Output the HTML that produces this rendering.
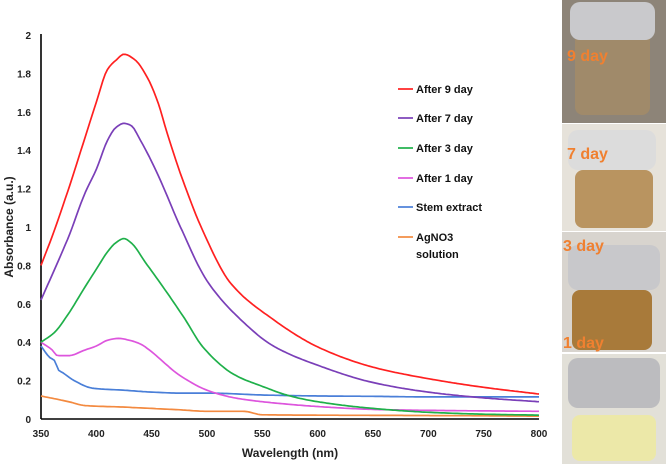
<!DOCTYPE html>
<html><head><meta charset="utf-8"><style>
body{margin:0;background:#fff;width:669px;height:464px;overflow:hidden;font-family:"Liberation Sans",sans-serif}
svg text{font-family:"Liberation Sans",sans-serif}
</style></head><body>
<svg width="669" height="464" viewBox="0 0 669 464" id="svg">
<g id="plot"></g>
<g id="photos">
 <rect x="562" y="0" width="104" height="123" fill="#8d8478"/>
 <rect x="575" y="30" width="75" height="85" rx="8" fill="#a08a6a"/>
 <rect x="570" y="2" width="85" height="38" rx="10" fill="#c9c9cc"/>
 <rect x="562" y="124" width="104" height="107" fill="#e6e2da"/>
 <rect x="575" y="170" width="78" height="58" rx="8" fill="#b99460"/>
 <rect x="568" y="130" width="88" height="40" rx="10" fill="#dcdcdc"/>
 <rect x="562" y="232" width="104" height="120" fill="#d8d4ce"/>
 <rect x="572" y="290" width="80" height="60" rx="8" fill="#a87a3a"/>
 <rect x="568" y="245" width="92" height="45" rx="10" fill="#c8c8cb"/>
 <rect x="562" y="354" width="104" height="110" fill="#e2e0d8"/>
 <rect x="572" y="415" width="84" height="46" rx="8" fill="#ece8a8"/>
 <rect x="568" y="358" width="92" height="50" rx="10" fill="#bcbcbf"/>
 <g font-weight="bold" font-size="16" fill="#f08030">
  <text x="567" y="61">9 day</text>
  <text x="567" y="159">7 day</text>
  <text x="563" y="251">3 day</text>
  <text x="563" y="348">1 day</text>
 </g>
</g>
</svg>
<script>
const seriesNames=["After 9 day","After 7 day","After 3 day","After 1 day","Stem extract","AgNO3 solution"];
const seriesColors=["#ff2020","#7a3fb8","#1fb04a","#dd55dd","#4a7fd8","#f38a40"];
const wl9=[350,360,375,390,400,410,418,425,435,445,455,465,479,497,521,557,602,650,700,750,800];
const ab9=[0.8,0.95,1.2,1.47,1.65,1.82,1.87,1.9,1.87,1.79,1.66,1.47,1.23,0.97,0.71,0.53,0.37,0.27,0.21,0.165,0.13];
const wl7=[350,360,375,390,400,410,418,425,431,440,455,476,500,530,560,600,650,700,750,800];
const ab7=[0.62,0.75,0.95,1.18,1.3,1.45,1.52,1.54,1.53,1.45,1.28,1.0,0.72,0.52,0.38,0.28,0.19,0.14,0.11,0.09];
const wl3=[350,362,375,390,400,410,418,425,431,445,460,479,497,525,550,575,600,650,700,750,800];
const ab3=[0.4,0.45,0.55,0.69,0.78,0.87,0.92,0.94,0.92,0.81,0.69,0.53,0.37,0.23,0.17,0.12,0.09,0.055,0.035,0.025,0.02];
const wl1=[350,360,365,375,390,400,410,420,430,440,450,460,470,480,500,525,550,600,650,700,800];
const ab1=[0.4,0.36,0.33,0.33,0.36,0.38,0.41,0.42,0.41,0.39,0.35,0.3,0.25,0.21,0.15,0.11,0.09,0.065,0.05,0.045,0.04];
const wlS=[350,358,363,365,370,380,397,425,450,475,500,550,600,650,700,800];
const abS=[0.38,0.32,0.3,0.26,0.24,0.2,0.16,0.15,0.14,0.135,0.135,0.125,0.12,0.118,0.115,0.115];
const wlA=[350,375,390,425,450,475,500,533,550,600,700,800];
const abA=[0.12,0.09,0.07,0.062,0.055,0.048,0.04,0.04,0.022,0.02,0.018,0.015];
const xTicks=[350,400,450,500,550,600,650,700,750,800];
const yTicks=[0,0.2,0.4,0.6,0.8,1,1.2,1.4,1.6,1.8,2];
const yTickLabels=["0","0.2","0.4","0.6","0.8","1","1.2","1.4","1.6","1.8","2"];
const allWl=[wl9,wl7,wl3,wl1,wlS,wlA];
const allAb=[ab9,ab7,ab3,ab1,abS,abA];

const NS="http://www.w3.org/2000/svg";
const g=document.getElementById('plot');
const X=v=>41+(v-350)*(498/450);
const Y=v=>419-v*192;
function mk(t,a,p){const e=document.createElementNS(NS,t);for(const k in a)e.setAttribute(k,a[k]);(p||g).appendChild(e);return e;}
function monotone(xs,ys){const n=xs.length,d=[],m=[];
 for(let i=0;i<n-1;i++)d.push((ys[i+1]-ys[i])/(xs[i+1]-xs[i]));
 m[0]=d[0];m[n-1]=d[n-2];
 for(let i=1;i<n-1;i++){if(d[i-1]*d[i]<=0)m[i]=0;else{const w1=2*(xs[i+1]-xs[i])+(xs[i]-xs[i-1]),w2=(xs[i+1]-xs[i])+2*(xs[i]-xs[i-1]);m[i]=(w1+w2)/(w1/d[i-1]+w2/d[i]);}}
 return x=>{let i=0;while(i<n-2&&x>xs[i+1])i++;const h=xs[i+1]-xs[i],t=(x-xs[i])/h,t2=t*t,t3=t2*t;
  return (2*t3-3*t2+1)*ys[i]+(t3-2*t2+t)*h*m[i]+(-2*t3+3*t2)*ys[i+1]+(t3-t2)*h*m[i+1];};}
const ya=mk('line',{x1:X(350),y1:Y(2)-1,x2:X(350),y2:Y(0),stroke:'#000','stroke-width':1.6});


const xa=mk('line',{x1:X(350),y1:Y(0),x2:X(800),y2:Y(0),stroke:'#000','stroke-width':1.6});


yTicks.forEach((v,i)=>{const t=mk('text',{x:31,y:Y(v)+4,'text-anchor':'end','font-size':10,'font-weight':'bold',fill:'#222'});t.textContent=yTickLabels[i];
 
 });
xTicks.forEach(v=>{const t=mk('text',{x:X(v),y:437,'text-anchor':'middle','font-size':10,'font-weight':'bold',fill:'#222'});t.textContent=v;
 
 });
const xt=mk('text',{x:290,y:457,'text-anchor':'middle','font-size':12,'font-weight':'bold',fill:'#222'});xt.textContent="Wavelength (nm)";


const yt=mk('text',{x:0,y:0,'text-anchor':'middle','font-size':12,'font-weight':'bold',fill:'#222',transform:'translate(13,227) rotate(-90)','font-family':'Liberation Serif'});yt.textContent="Absorbance (a.u.)";


for(let s=5;s>=0;s--){const f=monotone(allWl[s],allAb[s]);let d="";
 for(let w=350;w<=800;w+=2){d+=(w===350?"M":" L")+X(w).toFixed(1)+","+Y(f(w)).toFixed(1);}
 const p=mk('path',{d:d,fill:'none',stroke:seriesColors[s],'stroke-width':1.7,'stroke-linejoin':'round'});
 
 }
const ly=[89,118,148,178,207,237];
seriesNames.forEach((n,i)=>{const l=mk('line',{x1:398,y1:ly[i],x2:413,y2:ly[i],stroke:seriesColors[i],'stroke-width':1.7});
 
 
 const t=mk('text',{x:416,y:ly[i]+4,'font-size':11,'font-weight':'bold',fill:'#111'});
 
 
 if(n==="AgNO3 solution"){t.textContent="AgNO3";const t2=mk('text',{x:416,y:ly[i]+21,'font-size':11,'font-weight':'bold',fill:'#111'});t2.textContent="solution";
  
  }
 else t.textContent=n;});
</script>
</body></html>
